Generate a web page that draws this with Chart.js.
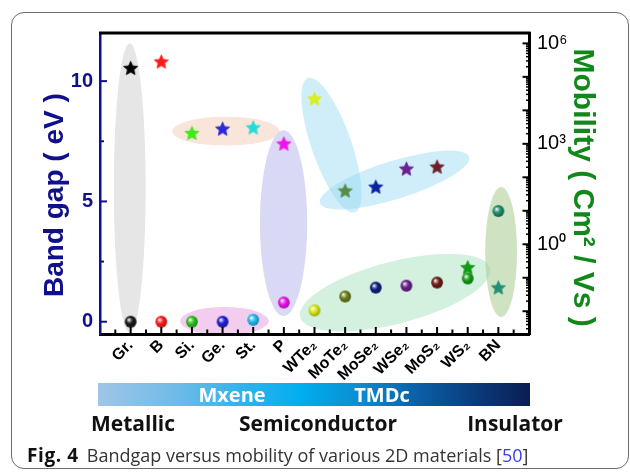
<!DOCTYPE html>
<html>
<head>
<meta charset="utf-8">
<script src="https://cdn.jsdelivr.net/npm/chart.js@4.4.1/dist/chart.umd.min.js"></script>
<style>
  html, body { margin: 0; padding: 0; background: #fff; }
  #wrap { position: relative; width: 630px; height: 472px; overflow: hidden; background: #fff; }
  #frame { position: absolute; left: 11px; top: 12px; width: 618px; height: 457px; box-sizing: border-box;
           border: 1.5px solid #6a6a6a; border-radius: 13px; }
  #chart { position: absolute; left: 0; top: 0; }
  #band { position: absolute; left: 98px; top: 383px; width: 432px; height: 23px;
          background: linear-gradient(to right, #9fc5e7 0%, #6fbbe8 18%, #2fb2ec 34%, #00aeef 47%, #0a8fd0 60%, #0b5fa6 74%, #0a3a7a 88%, #0b1d52 100%); }
  .lbl { position: absolute; white-space: nowrap; transform: translateX(-50%); font-family: "Open Sans", "Noto Sans", sans-serif; font-weight: 700; }
  .inbar { color: #fff; font-size: 20px; top: 381px; line-height: 27px; }
  .cls { color: #111; font-size: 21px; top: 407px; line-height: 32px; }
  #cap { position: absolute; left: 27px; top: 442px; line-height: 26px; font-family: "Open Sans", "Noto Sans", sans-serif;
         font-size: 18px; color: #333; white-space: nowrap; }
  #cap b { color: #111; font-size: 19px; letter-spacing: 0.6px; margin-right: 8px; }
  #cap .ref { color: #3a3ae6; }
</style>
</head>
<body>
<div id="wrap">
  <div id="frame"></div>
  <canvas id="chart" width="630" height="472"></canvas>
  <div id="band"></div>
  <div class="lbl inbar" style="left:232px">Mxene</div>
  <div class="lbl inbar" style="left:382px">TMDc</div>
  <div class="lbl cls" style="left:133px">Metallic</div>
  <div class="lbl cls" style="left:318px">Semiconductor</div>
  <div class="lbl cls" style="left:515px">Insulator</div>
  <div id="cap"><b>Fig. 4</b>Bandgap versus mobility of various 2D materials [<span class="ref">50</span>]</div>
</div>
<script>
// Materials along the x axis (plotted at positions 1..n)
const categories = ['Gr.', 'B', 'Si.', 'Ge.', 'St.', 'P', 'WTe₂', 'MoTe₂', 'MoSe₂', 'WSe₂', 'MoS₂', 'WS₂', 'BN'];
// Band gap in eV (left axis, spheres)
const bandGapEV = [0, 0, 0, 0, 0.08, 0.8, 0.47, 1.05, 1.42, 1.5, 1.63, 1.8, 4.6];
// Carrier mobility in cm²/Vs (right log axis, stars)
const mobilityCm2Vs = [1.8e5, 2.8e5, 2050, 2770, 3000, 990, 2.2e4, 39, 51, 177, 203, 0.2, 0.05];
// Labelled ticks
const bandGapTicks = [0, 5, 10];
const mobilityLabelExponents = [0, 3, 6];

// Marker colours, one per material
const sphereColors = ['#1a1a1a', '#ff1a1a', '#2cc21c', '#2020d6', '#22bdf0', '#ee12ee', '#dbe812',
                      '#6c7e18', '#0c1f7e', '#6a1f8a', '#6e1c14', '#14a014', '#1f8c6c'];
const starColors = ['#000000', '#ff1a1a', '#44e81a', '#2a2ad6', '#22dcdc', '#ef12ef', '#d8ef22',
                    '#568c48', '#0a22a0', '#6c2092', '#6e1e2a', '#139a13', '#229076'];

// Shaded group outlines, in data units (x: material position, y: band gap eV), angle in degrees
const groupHighlights = [
  { x: 0.97, y: 5.55, rx: 0.52, ry: 6.02, angle: 0, fill: '#e6e6e6' },
  { x: 4.11, y: 7.92, rx: 1.75, ry: 0.60, angle: 0, fill: '#f9e5d9' },
  { x: 5.99, y: 4.10, rx: 0.77, ry: 3.86, angle: 0, fill: '#d9d9f5' },
  { x: 4.06, y: 0.03, rx: 1.45, ry: 0.58, angle: 0, fill: '#f2cdf0' },
  { x: 9.63, y: 1.21, rx: 3.20, ry: 1.29, angle: -14.5, fill: '#d4f1e0' },
  { x: 13.09, y: 2.90, rx: 0.52, ry: 2.70, angle: 0, fill: 'rgba(160,200,135,0.5)' },
  { x: 7.555, y: 7.34, rx: 2.32, ry: 0.83, angle: 70.7, fill: 'rgba(137,212,240,0.4)' },
  { x: 9.61, y: 5.89, rx: 2.55, ry: 0.79, angle: -17.2, fill: 'rgba(137,212,240,0.4)' }
];

const NAVY = '#10108a';
const GREEN = '#13881a';
const AXIS_FONT = '"Liberation Sans", Arial, Helvetica, sans-serif';

function shade(hex, f) {
  const n = parseInt(hex.slice(1), 16);
  let r = (n >> 16) & 255, g = (n >> 8) & 255, b = n & 255;
  if (f >= 0) { r += (255 - r) * f; g += (255 - g) * f; b += (255 - b) * f; }
  else { r *= 1 + f; g *= 1 + f; b *= 1 + f; }
  return `rgb(${Math.round(r)},${Math.round(g)},${Math.round(b)})`;
}

function makeStar(color) {
  const c = document.createElement('canvas');
  c.width = 17; c.height = 17;
  const g = c.getContext('2d');
  const cx = 8.5, cy = 8.8, R = 7.4, r = 3.4;
  g.beginPath();
  for (let i = 0; i < 10; i++) {
    const a = -Math.PI / 2 + i * Math.PI / 5;
    const rad = i % 2 ? r : R;
    g.lineTo(cx + rad * Math.cos(a), cy + rad * Math.sin(a));
  }
  g.closePath();
  g.fillStyle = color;
  g.fill();
  g.lineJoin = 'round';
  g.lineWidth = 0.8;
  g.strokeStyle = color;
  g.stroke();
  return c;
}

function makeSphere(color) {
  const c = document.createElement('canvas');
  c.width = 14; c.height = 14;
  const g = c.getContext('2d');
  const cx = 7, cy = 7, R = 5.9;
  const grad = g.createRadialGradient(cx - 1.8, cy - 2.0, 0.3, cx - 0.5, cy - 0.5, R * 1.2);
  grad.addColorStop(0, '#ffffff');
  grad.addColorStop(0.18, shade(color, 0.5));
  grad.addColorStop(0.45, color);
  grad.addColorStop(1, shade(color, -0.35));
  g.beginPath();
  g.arc(cx, cy, R, 0, Math.PI * 2);
  g.fillStyle = grad;
  g.fill();
  return c;
}

const sphereImgs = sphereColors.map(makeSphere);
const starImgs = starColors.map(makeStar);

// Shaded ellipses behind everything, positioned through the chart scales
const highlightPlugin = {
  id: 'groupHighlights',
  beforeDraw(chart) {
    const { ctx, chartArea, scales } = chart;
    const xs = scales.x, ys = scales.y;
    ctx.save();
    ctx.beginPath();
    ctx.rect(chartArea.left, chartArea.top, chartArea.right - chartArea.left, chartArea.bottom - chartArea.top);
    ctx.clip();
    groupHighlights.forEach(h => {
      const cx = xs.getPixelForValue(h.x);
      const cy = ys.getPixelForValue(h.y);
      const rx = Math.abs(xs.getPixelForValue(h.x + h.rx) - cx);
      const ry = Math.abs(ys.getPixelForValue(h.y + h.ry) - cy);
      ctx.beginPath();
      ctx.ellipse(cx, cy, rx, ry, h.angle * Math.PI / 180, 0, Math.PI * 2);
      ctx.fillStyle = h.fill;
      ctx.fill();
    });
    ctx.restore();
  }
};

// Inward tick marks and the frame's top edge
const frameTicksPlugin = {
  id: 'frameTicks',
  afterDraw(chart) {
    const { ctx, chartArea, scales } = chart;
    ctx.save();
    ctx.lineCap = 'butt';
    // top edge
    ctx.strokeStyle = '#000';
    ctx.lineWidth = 3;
    ctx.beginPath();
    ctx.moveTo(chartArea.left - 1, chartArea.top);
    ctx.lineTo(chartArea.right + 1.5, chartArea.top);
    ctx.stroke();
    // x ticks
    ctx.lineWidth = 2;
    scales.x.ticks.forEach(t => {
      const px = scales.x.getPixelForValue(t.value);
      const len = Number.isInteger(t.value) ? 7 : 4.5;
      ctx.beginPath();
      ctx.moveTo(px, chartArea.bottom);
      ctx.lineTo(px, chartArea.bottom - len);
      ctx.stroke();
    });
    // left ticks
    ctx.strokeStyle = NAVY;
    scales.y.ticks.forEach(t => {
      const py = scales.y.getPixelForValue(t.value);
      const len = bandGapTicks.includes(t.value) ? 7 : 4;
      ctx.beginPath();
      ctx.moveTo(chartArea.left, py);
      ctx.lineTo(chartArea.left + len, py);
      ctx.stroke();
    });
    // right ticks
    ctx.strokeStyle = '#000';
    scales.y1.ticks.forEach(t => {
      const py = scales.y1.getPixelForValue(t.value);
      const e = Math.log10(t.value);
      const major = Math.abs(e - Math.round(e)) < 1e-9;
      const len = major ? 6.5 : 3;
      ctx.lineWidth = major ? 2 : 1.5;
      ctx.beginPath();
      ctx.moveTo(chartArea.right, py);
      ctx.lineTo(chartArea.right - len, py);
      ctx.stroke();
    });
    ctx.restore();
  }
};

const SUP = { '0': '⁰', '1': '¹', '2': '²', '3': '³', '4': '⁴', '5': '⁵', '6': '⁶', '7': '⁷', '8': '⁸', '9': '⁹', '-': '⁻' };
const sup = n => String(n).split('').map(ch => SUP[ch]).join('');

new Chart(document.getElementById('chart'), {
  type: 'scatter',
  data: {
    datasets: [
      {
        label: 'Band gap (eV)',
        yAxisID: 'y',
        data: bandGapEV.map((v, i) => ({ x: i + 1, y: v })),
        pointStyle: sphereImgs,
        pointRadius: 6,
        showLine: false
      },
      {
        label: 'Mobility (cm²/Vs)',
        yAxisID: 'y1',
        data: mobilityCm2Vs.map((v, i) => ({ x: i + 1, y: v })),
        pointStyle: starImgs,
        pointRadius: 8,
        showLine: false
      }
    ]
  },
  options: {
    responsive: false,
    animation: false,
    layout: { padding: { top: 33, left: 0, right: 0, bottom: 0 } },
    plugins: { legend: { display: false }, tooltip: { enabled: false } },
    scales: {
      x: {
        type: 'linear',
        position: 'bottom',
        min: 0,
        max: categories.length + 1,
        afterBuildTicks: s => {
          const ticks = [];
          for (let v = 0.5; v < categories.length + 1; v += 0.5) ticks.push({ value: v });
          s.ticks = ticks;
        },
        afterFit: s => { s.height = 138; },
        grid: { display: false, drawTicks: false },
        border: { display: true, color: '#000', width: 3 },
        ticks: {
          autoSkip: false,
          minRotation: 45,
          maxRotation: 45,
          padding: 2,
          color: '#000',
          font: { family: AXIS_FONT, size: 16, weight: 'bold' },
          callback: v => (Number.isInteger(v) && v >= 1 && v <= categories.length) ? categories[v - 1] : ''
        }
      },
      y: {
        type: 'linear',
        position: 'left',
        min: -0.51,
        max: 12,
        afterBuildTicks: s => {
          const ticks = [];
          bandGapTicks.forEach((v, i) => {
            ticks.push({ value: v });
            if (i < bandGapTicks.length - 1) ticks.push({ value: (v + bandGapTicks[i + 1]) / 2 });
          });
          s.ticks = ticks;
        },
        afterFit: s => { s.width = 100; },
        grid: { display: false, drawTicks: false },
        border: { display: true, color: NAVY, width: 2.5 },
        ticks: {
          autoSkip: false,
          padding: 7,
          color: NAVY,
          font: { family: AXIS_FONT, size: 20, weight: 'bold' },
          callback: v => bandGapTicks.includes(v) ? String(v) : ''
        },
        title: {
          display: true,
          text: 'Band gap ( eV )\u00a0\u00a0\u00a0',
          color: NAVY,
          font: { family: AXIS_FONT, size: 28, weight: 'bold' },
          padding: { top: 38, bottom: 0 }
        }
      },
      y1: {
        type: 'logarithmic',
        position: 'right',
        min: Math.pow(10, -2.68),
        max: Math.pow(10, 6.31),
        afterBuildTicks: s => {
          const ticks = [];
          for (let e = -3; e <= 6; e++) {
            for (let m = 1; m <= 9; m++) {
              const v = m * Math.pow(10, e);
              if (v >= s.min && v <= s.max) ticks.push({ value: v });
            }
          }
          s.ticks = ticks;
        },
        afterFit: s => { s.width = 101; },
        grid: { display: false, drawTicks: false },
        border: { display: true, color: '#000', width: 3 },
        ticks: {
          autoSkip: false,
          padding: 8,
          color: '#000',
          font: { family: AXIS_FONT, size: 20 },
          callback: v => {
            const e = Math.round(Math.log10(v));
            if (Math.abs(Math.log10(v) - e) > 1e-9) return '';
            return mobilityLabelExponents.includes(e) ? '10' + sup(e) : '';
          }
        },
        title: {
          display: true,
          text: ' Mobility ( Cm² / Vs )',
          color: GREEN,
          font: { family: AXIS_FONT, size: 30, weight: 'bold' },
          padding: { top: 30, bottom: 0 }
        }
      }
    }
  },
  plugins: [highlightPlugin, frameTicksPlugin]
});
</script>
</body>
</html>
